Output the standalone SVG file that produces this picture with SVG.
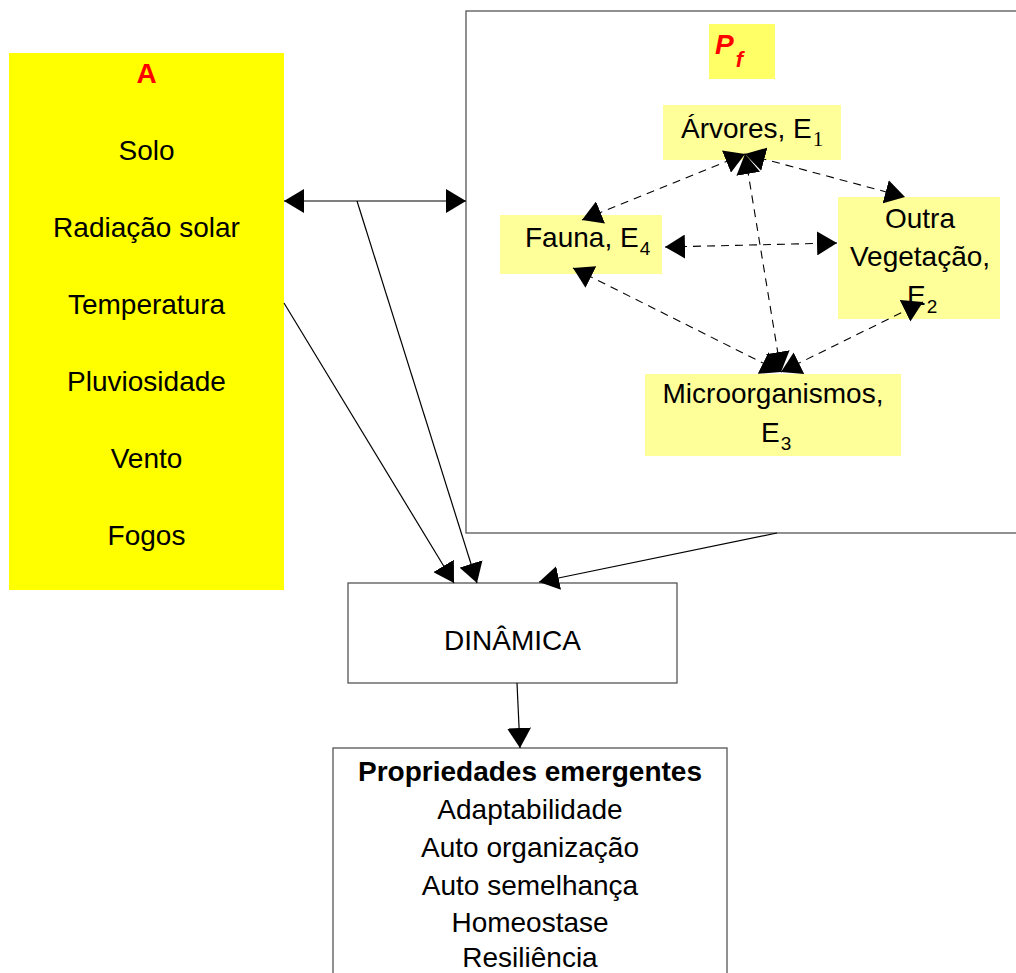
<svg xmlns="http://www.w3.org/2000/svg" width="1016" height="973" viewBox="0 0 1016 973">
  <style>
    text { font-family: "Liberation Sans", Arial, sans-serif; font-size: 28px; fill: #000; }
    .mid { text-anchor: middle; }
    .red { fill: #ff0000; font-weight: bold; }
    .bold { font-weight: bold; }
    .sub { font-size: 19px; }
    .serif { font-family: "Liberation Serif", "Times New Roman", serif; }
    .pale { fill: #ffff99; }
    .frame { fill: #ffffff; stroke: #555; stroke-width: 1.3; }
    .solid { fill: none; stroke: #000; stroke-width: 1.2; }
    .dash { fill: none; stroke: #000; stroke-width: 1.1; stroke-dasharray: 8 6; }
  </style>
  <defs>
    <marker id="head" viewBox="0 0 20 24" refX="20" refY="12" markerWidth="20" markerHeight="24" markerUnits="userSpaceOnUse" orient="auto-start-reverse">
      <path d="M0,0 L20,12 L0,24 z" fill="#000"/>
    </marker>
  </defs>

  <rect width="1016" height="973" fill="#ffffff"/>

  <!-- Environment factors -->
  <g id="ambiente">
    <rect x="9" y="53" width="275" height="537" fill="#ffff00"/>
    <text class="mid red" x="146.5" y="83">A</text>
    <text class="mid" x="146.5" y="160">Solo</text>
    <text class="mid" x="146.5" y="237">Radiação solar</text>
    <text class="mid" x="146.5" y="314">Temperatura</text>
    <text class="mid" x="146.5" y="391">Pluviosidade</text>
    <text class="mid" x="146.5" y="468">Vento</text>
    <text class="mid" x="146.5" y="545">Fogos</text>
  </g>

  <!-- Population frame -->
  <g id="populacao">
    <rect class="frame" x="466" y="11" width="570" height="522"/>
    <rect x="709" y="24" width="66" height="55" fill="#ffff66"/>
    <text x="715" y="54" font-size="31" font-weight="bold" font-style="italic" style="fill:#ff0000">P<tspan font-size="22" dx="2" dy="13">f</tspan></text>
  </g>

  <g id="arvores">
    <rect class="pale" x="663" y="105" width="178" height="55"/>
    <text x="681" y="138">Árvores, E<tspan class="serif" font-size="21" dx="1" dy="8">1</tspan></text>
  </g>

  <g id="fauna">
    <rect class="pale" x="500" y="215" width="162" height="59"/>
    <text x="525" y="247">Fauna, E<tspan class="sub" dx="1" dy="8">4</tspan></text>
  </g>

  <g id="outra-vegetacao">
    <rect class="pale" x="838" y="197" width="162" height="122"/>
    <text class="mid" x="920" y="228">Outra</text>
    <text class="mid" x="920" y="266">Vegetação,</text>
    <text x="907" y="305">E<tspan class="sub" dx="1" dy="8">2</tspan></text>
  </g>

  <g id="microorganismos">
    <rect class="pale" x="645" y="374" width="256" height="82"/>
    <text class="mid" x="773" y="403">Microorganismos,</text>
    <text x="761" y="442">E<tspan class="sub" dx="1" dy="8">3</tspan></text>
  </g>

  <g id="dinamica">
    <rect class="frame" x="348" y="583" width="329" height="100"/>
    <text class="mid" x="512.5" y="650">DINÂMICA</text>
  </g>

  <g id="propriedades">
    <rect class="frame" x="333" y="748" width="394" height="240"/>
    <text class="mid bold" x="530" y="781">Propriedades emergentes</text>
    <text class="mid" x="530" y="819">Adaptabilidade</text>
    <text class="mid" x="530" y="857">Auto organização</text>
    <text class="mid" x="530" y="895">Auto semelhança</text>
    <text class="mid" x="530" y="932">Homeostase</text>
    <text class="mid" x="530" y="967">Resiliência</text>
  </g>

  <!-- Connectors -->
  <g id="connectors">
    <line class="solid" x1="284" y1="201" x2="466" y2="201" stroke-width="1.6" marker-start="url(#head)" marker-end="url(#head)"/>
    <line class="solid" x1="357" y1="201" x2="477" y2="583" marker-end="url(#head)"/>
    <line class="solid" x1="284" y1="303" x2="454" y2="583" marker-end="url(#head)"/>
    <line class="solid" x1="777" y1="533" x2="539" y2="582" marker-end="url(#head)"/>
    <line class="solid" x1="517" y1="683" x2="520" y2="748" marker-end="url(#head)"/>

    <line class="dash" x1="745" y1="154" x2="582" y2="220" marker-start="url(#head)" marker-end="url(#head)"/>
    <line class="dash" x1="745" y1="154" x2="905" y2="197" marker-start="url(#head)" marker-end="url(#head)"/>
    <line class="dash" x1="745" y1="154" x2="781" y2="372" marker-start="url(#head)" marker-end="url(#head)"/>
    <line class="dash" x1="665" y1="247" x2="837" y2="243" marker-start="url(#head)" marker-end="url(#head)"/>
    <line class="dash" x1="573" y1="268" x2="781" y2="372" marker-start="url(#head)" marker-end="url(#head)"/>
    <line class="dash" x1="781" y1="372" x2="923" y2="302" marker-start="url(#head)" marker-end="url(#head)"/>
  </g>
</svg>
